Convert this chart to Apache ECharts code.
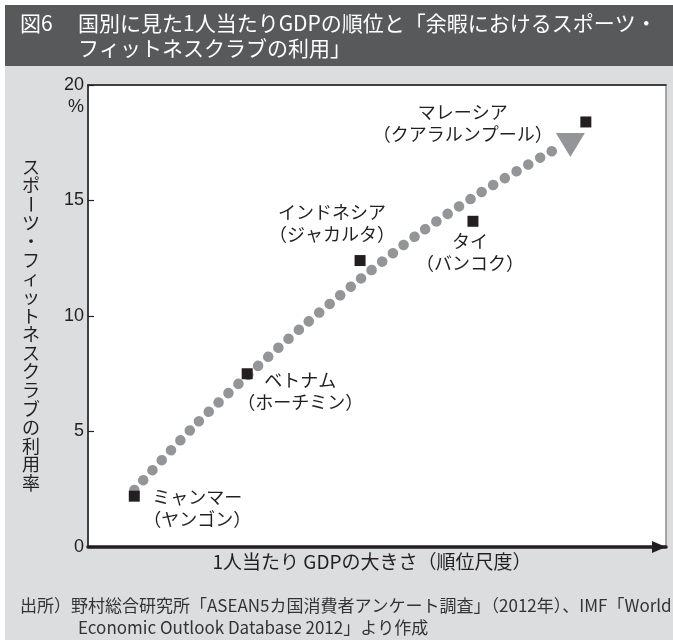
<!DOCTYPE html>
<html>
<head>
<meta charset="utf-8">
<script src="https://cdn.jsdelivr.net/npm/echarts@6/dist/echarts.min.js"></script>
<style>
  html, body { margin: 0; padding: 0; background: #ffffff; }
  #chart { width: 673px; height: 640px; }
</style>
</head>
<body>
<div id="chart"></div>
<script>
// Rank of GDP per capita (1 = lowest) for each surveyed city
const ranks = [1, 2, 3, 4, 5];
const countryNames = ['ミャンマー', 'ベトナム', 'インドネシア', 'タイ', 'マレーシア'];
const cityNames = ['ヤンゴン', 'ホーチミン', 'ジャカルタ', 'バンコク', 'クアラルンプール'];
// Share using sports / fitness clubs in leisure time (%)
const usageRates = [2.2, 7.5, 12.4, 14.1, 18.4];

// Dotted trend curve (rank, %) and the arrow head at its end
const trendRank = [1.0, 1.525, 2.009, 2.498, 3.0, 3.522, 4.062, 4.637, 4.752];
const trendRate = [2.47, 5.21, 7.45, 9.57, 11.59, 13.57, 15.32, 16.97, 17.27];
const arrowHead = [4.863, 17.4];

// Y axis ticks
const yTicks = [0, 5, 10, 15, 20];

const titleNo = '図6';
const titleLines = ['国別に見た1人当たりGDPの順位と「余暇におけるスポーツ・', 'フィットネスクラブの利用」'];
const xAxisTitle = '1人当たり GDPの大きさ（順位尺度）';
const yAxisTitle = 'スポーツ・フィットネスクラブの利用率';
const sourceLines = [
  '出所）野村総合研究所「ASEAN5カ国消費者アンケート調査」（2012年）、IMF「World',
  'Economic Outlook Database 2012」より作成'
];

// label placement around each square (px offsets from the square centre)
const labelOffsets = [[63, 11.5], [53, 17], [-28, -37], [-3, 30.5], [-123, 1.5]];

const JP = '"Noto Sans CJK JP", "Noto Sans", sans-serif';
const NARROW = '"Liberation Sans Narrow", "Noto Sans CJK JP", sans-serif';
const NUM = '"Liberation Sans", Arial, sans-serif';
const INK = '#231f20';
const DOT = '#939598';

const G = { left: 88, top: 85, right: 7, bottom: 93 };

// vertical axis title, one glyph per row; the long vowel mark is turned upright
const yTitleEls = [];
const yChars = Array.from(yAxisTitle);
const yStep = 18.6;
const yStart = 167;
yChars.forEach((ch, i) => {
  yTitleEls.push({
    type: 'text',
    x: 31,
    y: yStart + i * yStep,
    rotation: ch === 'ー' ? -Math.PI / 2 : 0,
    style: { text: ch, font: '18px ' + JP, fill: INK, align: 'center', verticalAlign: 'middle' },
    z: 10
  });
});

const option = {
  animation: false,
  grid: {
    left: G.left, top: G.top, right: G.right, bottom: G.bottom,
    show: true, backgroundColor: '#ffffff', borderColor: '#8c8c8c', borderWidth: 1.5
  },
  xAxis: [{
    type: 'value', min: 0.59, max: 5.71,
    axisLine: {
      show: true, lineStyle: { color: INK, width: 3.5 },
      symbol: ['none', 'triangle'], symbolSize: [12, 14], symbolOffset: [0, -7]
    },
    axisTick: { show: false }, axisLabel: { show: false }, splitLine: { show: false },
    name: xAxisTitle, nameLocation: 'middle', nameGap: 5,
    nameTextStyle: { fontFamily: JP, fontSize: 19, color: INK, padding: [0, 10, 0, 0] }
  }, {
    type: 'value', position: 'top', min: 0.59, max: 5.71,
    axisLine: { show: true, lineStyle: { color: INK, width: 1.5 } },
    axisTick: { show: false }, axisLabel: { show: false }, splitLine: { show: false }
  }],
  yAxis: {
    type: 'value', min: yTicks[0], max: yTicks[yTicks.length - 1], interval: yTicks[1] - yTicks[0],
    axisLine: { show: true, lineStyle: { color: INK, width: 1.5 } },
    axisTick: { show: true, inside: true, length: 6, lineStyle: { color: INK, width: 1.2 } },
    axisLabel: { fontFamily: NUM, fontSize: 18, color: INK, margin: 4 },
    splitLine: { show: false }
  },
  graphic: [
    { type: 'rect', shape: { x: 5, y: 66, width: 668, height: 574 }, style: { fill: '#dcdddf' }, z: -100, silent: true },
    { type: 'rect', shape: { x: 5, y: 5, width: 668, height: 61 }, style: { fill: '#58595b' }, z: -100, silent: true },
    { type: 'text', x: 20, y: 23, style: { text: titleNo, font: '21px ' + JP, fill: '#ffffff', verticalAlign: 'middle' } },
    { type: 'text', x: 78, y: 23, style: { text: titleLines[0], font: '21px ' + JP, fill: '#ffffff', verticalAlign: 'middle' } },
    { type: 'text', x: 78, y: 48, style: { text: titleLines[1], font: '21px ' + JP, fill: '#ffffff', verticalAlign: 'middle' } },
    { type: 'text', x: 84, y: 107, style: { text: '%', font: '18px ' + NUM, fill: INK, align: 'right', verticalAlign: 'middle' } },
    { type: 'text', x: 20, y: 606, style: { text: sourceLines[0], font: '17px ' + NARROW, fill: '#333333', verticalAlign: 'middle' } },
    { type: 'text', x: 78, y: 628, style: { text: sourceLines[1], font: '17px ' + NARROW, fill: '#333333', verticalAlign: 'middle' } }
  ].concat(yTitleEls),
  series: [
    {
      type: 'line',
      data: trendRank.map((r, i) => [r, trendRate[i]]),
      smooth: 0.3,
      symbol: 'none',
      lineStyle: { color: DOT, width: 10.5, type: [0.1, 13.4], cap: 'round', opacity: 1 },
      z: 2
    },
    {
      type: 'scatter',
      data: [arrowHead],
      symbol: 'triangle',
      symbolRotate: 180,
      symbolSize: [29, 24],
      itemStyle: { color: DOT, opacity: 1 },
      z: 3
    },
    {
      type: 'scatter',
      data: ranks.map((r, i) => ({
        value: [r, usageRates[i]],
        name: countryNames[i],
        label: { offset: labelOffsets[i] }
      })),
      symbol: 'rect',
      symbolSize: 11,
      itemStyle: { color: INK, opacity: 1 },
      label: {
        show: true,
        position: 'inside',
        align: 'center',
        verticalAlign: 'middle',
        fontFamily: JP,
        fontSize: 18,
        lineHeight: 22,
        color: INK,
        formatter: p => countryNames[p.dataIndex] + '\n（' + cityNames[p.dataIndex] + '）'
      },
      z: 4
    }
  ]
};

const chart = echarts.init(document.getElementById('chart'), null, { renderer: 'canvas' });
chart.setOption(option);
</script>
</body>
</html>
